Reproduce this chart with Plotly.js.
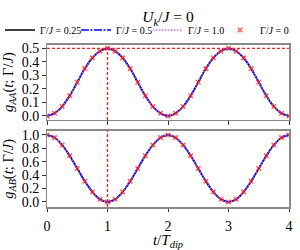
<!DOCTYPE html>
<html>
<head>
<meta charset="utf-8">
<script src="https://cdn.plot.ly/plotly-3.0.1.min.js"></script>
<style>html,body{margin:0;padding:0;background:#fff;}#chart{width:300px;height:250px;}</style>
</head>
<body>
<div id="chart"></div>
<script>
// time in units of T_dip
var tVals = [0, 0.125, 0.25, 0.375, 0.5, 0.625, 0.75, 0.875, 1, 1.125, 1.25, 1.375, 1.5, 1.625, 1.75, 1.875, 2,
             2.125, 2.25, 2.375, 2.5, 2.625, 2.75, 2.875, 3, 3.125, 3.25, 3.375, 3.5, 3.625, 3.75, 3.875, 4];
// g_AA(t; Γ/J) (all Γ/J curves coincide)
var gAA = [0.00, 0.02, 0.07, 0.15, 0.25, 0.35, 0.43, 0.48, 0.50, 0.48, 0.43, 0.35, 0.25, 0.15, 0.07, 0.02, 0.00,
           0.02, 0.07, 0.15, 0.25, 0.35, 0.43, 0.48, 0.50, 0.48, 0.43, 0.35, 0.25, 0.15, 0.07, 0.02, 0.00];
// g_AB(t; Γ/J)
var gAB = [1.00, 0.96, 0.85, 0.69, 0.50, 0.31, 0.15, 0.04, 0.00, 0.04, 0.15, 0.31, 0.50, 0.69, 0.85, 0.96, 1.00,
           0.96, 0.85, 0.69, 0.50, 0.31, 0.15, 0.04, 0.00, 0.04, 0.15, 0.31, 0.50, 0.69, 0.85, 0.96, 1.00];
var seriesNames = ["Γ/<i>J</i> = 0.25", "Γ/<i>J</i> = 0.5", "Γ/<i>J</i> = 1.0", "Γ/<i>J</i> = 0"];
var xTicks = [0, 1, 2, 3, 4];
var yTicksAA = [0.0, 0.1, 0.2, 0.3, 0.4, 0.5];
var yTicksAB = [0.0, 0.2, 0.4, 0.6, 0.8, 1.0];
var tDip = 1;      // reference time marker
var gAAmax = 0.5;  // reference level

var FONT = "Liberation Serif, Times New Roman, serif";
var styles = [
  {mode: "lines", line: {color: "black", width: 1.6, shape: "spline"}},
  {mode: "lines", line: {color: "blue", width: 1.7, dash: "8px,1.5px,2px,1.5px", shape: "spline"}},
  {mode: "lines", line: {color: "rgb(200,110,240)", width: 1.3, dash: "1.5px,1.5px", shape: "spline"}},
  {mode: "markers", marker: {symbol: "x-thin", size: 4.5, color: "rgba(255,30,30,0.7)", line: {color: "rgba(255,30,30,0.7)", width: 1.6}}}
];
var legendIds = ["legend", "legend2", "legend3", "legend4"];
var traces = [];
styles.forEach(function (s, i) {
  traces.push(Object.assign({x: tVals, y: gAA, xaxis: "x", yaxis: "y", name: seriesNames[i], legend: legendIds[i], showlegend: true}, s));
});
styles.forEach(function (s, i) {
  traces.push(Object.assign({x: tVals, y: gAB, xaxis: "x2", yaxis: "y2", name: seriesNames[i], showlegend: false}, s));
});

var frame = {showline: true, linecolor: "#8a8a8a", linewidth: 1.5, mirror: true, showgrid: false, zeroline: false,
             ticks: "outside", ticklen: 3.5, tickwidth: 1, tickcolor: "#333",
             tickfont: {family: FONT, size: 14, color: "black"}};
function legendAt(px) {
  return {xref: "container", yref: "container", x: px / 300, y: 1 - 30 / 250, xanchor: "left", yanchor: "middle",
          orientation: "h", bgcolor: "rgba(0,0,0,0)", borderwidth: 0,
          font: {family: FONT, size: 10, color: "black"}};
}
var refLine = {color: "#ff2020", width: 1.3, dash: "3px,2px"};
var layout = {
  width: 300, height: 250,
  margin: {l: 47, r: 11, t: 41, b: 43},
  paper_bgcolor: "white", plot_bgcolor: "white",
  font: {family: FONT, color: "black"},
  title: {text: "<i>U<sub>k</sub></i>/<i>J</i> = 0", font: {family: FONT, size: 15.5, color: "black"},
          x: 0.5, xref: "paper", y: 1 - 17 / 250, yref: "container", xanchor: "center", yanchor: "middle"},
  xaxis: Object.assign({}, frame, {domain: [0, 1], anchor: "y", range: [0, 4], tickvals: xTicks, showticklabels: false}),
  xaxis2: Object.assign({}, frame, {domain: [0, 1], anchor: "y2", range: [0, 4], matches: "x", tickvals: xTicks, ticklabelstandoff: 2,
          title: {text: "<i>t</i>/<i>T<sub>dip</sub></i>", font: {family: FONT, size: 15, color: "black"}, standoff: 3}}),
  yaxis: Object.assign({}, frame, {domain: [0.536, 1], anchor: "x", range: [-0.029, 0.529], tickvals: yTicksAA, tickformat: ".1f",
          title: {text: "<i>g<sub>AA</sub></i>(<i>t</i>; Γ/<i>J</i>)", font: {family: FONT, size: 14.5, color: "black"}, standoff: 6}}),
  yaxis2: Object.assign({}, frame, {domain: [0, 0.47], anchor: "x2", range: [-0.075, 1.065], tickvals: yTicksAB, tickformat: ".1f",
          title: {text: "<i>g<sub>AB</sub></i>(<i>t</i>; Γ/<i>J</i>)", font: {family: FONT, size: 14.5, color: "black"}, standoff: 6}}),
  legend: legendAt(0),
  legend2: legendAt(76),
  legend3: legendAt(148),
  legend4: legendAt(220),
  shapes: [
    {type: "line", xref: "x domain", yref: "y", x0: 0, x1: 1, y0: gAAmax, y1: gAAmax, line: refLine},
    {type: "line", xref: "x", yref: "y domain", x0: tDip, x1: tDip, y0: 0, y1: 1, line: refLine},
    {type: "line", xref: "x2", yref: "y2 domain", x0: tDip, x1: tDip, y0: 0, y1: 1, line: refLine}
  ]
};
Plotly.newPlot("chart", traces, layout, {displayModeBar: false, staticPlot: true});
</script>
</body>
</html>
